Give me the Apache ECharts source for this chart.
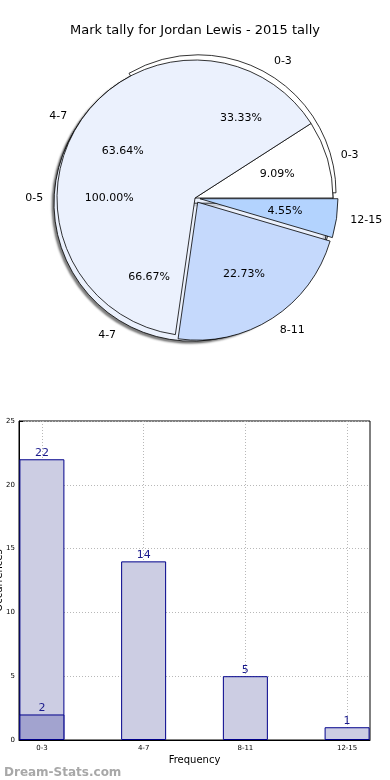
<!DOCTYPE html>
<html><head><meta charset="utf-8">
<script src="https://cdn.jsdelivr.net/npm/echarts@6.0.0/dist/echarts.min.js"></script>
<style>html,body{margin:0;padding:0;background:#fff}#c{width:390px;height:780px}</style>
</head><body><div id="c"></div><script>
// ---- data ----
const pieANames = ['0-3', '4-7', '8-11', '12-15'];
const pieAValues = [2, 14, 5, 1];
const pieBNames = ['0-3', '4-7'];
const pieBValues = [1, 2];
const pieCNames = ['0-5'];
const pieCValues = [1];
const barCategories = ['0-3', '4-7', '8-11', '12-15'];
const barValues = [22, 14, 5, 1];
const barSubValues = [2];          // darker overlay on first category
const yTicks = [0, 5, 10, 15, 20, 25];

// ---- styles ----
const FONT = 'DejaVu Sans';
const R = 138, CX = 195, CY = 198;
const pieAColors = ['#ffffff', '#ebf1fd', '#c5d9fc', '#b3d3fe'];
const pieAExplode = [false, false, true, true];
const pieBColors = ['#ffffff', '#ebf1fd'];
const pieBExplode = [true, true];
const pieBShadow = [false, true];
const pieCColors = ['#ebf1fd'];
const pieCExplode = [false];
const pieCShadow = [true];

const shadowStyle = { shadowBlur: 2, shadowColor: 'rgba(0,0,0,0.5)', shadowOffsetX: -2, shadowOffsetY: 2 };

function base(offset, z) {
  return {
    type: 'pie', center: [CX, CY], radius: [0, R], startAngle: 0, clockwise: false,
    selectedMode: 'multiple', selectedOffset: offset, silent: true, animation: false,
    avoidLabelOverlap: false, z: z, emphasis: { disabled: true },
    label: { show: false }, labelLine: { show: false }
  };
}
function sectors(names, values, colors, explode, offset, shadows) {
  const s = base(offset, 2);
  s.data = names.map((n, i) => {
    const st = Object.assign({ color: colors[i], borderColor: '#000', borderWidth: 0.8 },
      (shadows && shadows[i]) ? shadowStyle : {});
    return { name: n, value: values[i], selected: explode[i], itemStyle: st, select: { itemStyle: st } };
  });
  return s;
}
function pctLabels(names, values, explode, offset) {
  const total = values.reduce((a, b) => a + b, 0);
  const s = base(offset, 6);
  s.radius = [R * 0.2, R];
  s.label = { show: true, position: 'inside', color: '#000', fontSize: 11, fontFamily: FONT,
    formatter: p => (p.value / total * 100).toFixed(2) + '%' };
  s.data = names.map((n, i) => ({ name: n, value: values[i], selected: explode[i],
    itemStyle: { color: 'transparent', borderWidth: 0 }, select: { itemStyle: { color: 'transparent', borderWidth: 0 } } }));
  return s;
}
function nameLabels(names, values, explode, offset) {
  const s = base(offset, 6);
  s.label = { show: true, position: 'outside', color: '#000', fontSize: 11, fontFamily: FONT,
    formatter: '{b}', distanceToLabelLine: 0 };
  s.labelLine = { show: false, length: R * 0.1, length2: 0 };
  s.data = names.map((n, i) => ({ name: n, value: values[i], selected: explode[i],
    itemStyle: { color: 'transparent', borderWidth: 0 }, select: { itemStyle: { color: 'transparent', borderWidth: 0 } } }));
  return s;
}

const chart = echarts.init(document.getElementById('c'), null, { renderer: 'canvas' });
chart.setOption({
  animation: false,
  backgroundColor: '#fff',
  title: [
    { text: 'Mark tally for Jordan Lewis - 2015 tally', left: 'center', top: 19,
      textStyle: { fontFamily: FONT, fontSize: 13, fontWeight: 'normal', color: '#000' } },
    { text: 'Dream-Stats.com', left: -1, top: 762,
      textStyle: { fontFamily: FONT, fontSize: 12, fontWeight: 'bold', color: '#a8a8a8' } }
  ],
  grid: { left: 19, right: 20, top: 421, bottom: 40, outerBoundsMode: 'none', containLabel: false,
    show: true, borderColor: '#000', borderWidth: 1, backgroundColor: 'transparent' },
  xAxis: {
    type: 'value', min: -0.225, max: 3.225,
    name: 'Frequency', nameLocation: 'middle', nameGap: 15,
    nameTextStyle: { fontFamily: FONT, fontSize: 10, color: '#000' },
    axisLine: { show: true, onZero: false, lineStyle: { color: '#000' } },
    axisTick: { show: true, inside: true, length: 4, customValues: [0, 1, 2, 3], lineStyle: { color: '#000' } },
    axisLabel: { customValues: [0, 1, 2, 3], formatter: v => barCategories[Math.round(v)], fontFamily: FONT, fontSize: 7, color: '#000', margin: 5 },
    splitLine: { show: true, lineStyle: { color: '#b8b8b8', type: [1, 2] } }
  },
  yAxis: {
    type: 'value', min: yTicks[0], max: yTicks[yTicks.length - 1], interval: 5,
    name: 'Occurrences', nameLocation: 'middle', nameGap: 15, nameMoveOverlap: false,
    nameTextStyle: { fontFamily: FONT, fontSize: 10, color: '#000' },
    axisLine: { show: true, onZero: false, lineStyle: { color: '#000' } },
    axisTick: { show: true, inside: true, length: 4, lineStyle: { color: '#000' } },
    axisLabel: { fontFamily: FONT, fontSize: 7, color: '#000', margin: 4 },
    splitLine: { show: true, lineStyle: { color: '#b8b8b8', type: [1, 2] } }
  },
  series: [
    sectors(pieCNames, pieCValues, pieCColors, pieCExplode, 0, pieCShadow),
    sectors(pieBNames, pieBValues, pieBColors, pieBExplode, 6, pieBShadow),
    sectors(pieANames, pieAValues, pieAColors, pieAExplode, 5, null),
    pctLabels(pieCNames, pieCValues, pieCExplode, 0),
    pctLabels(pieBNames, pieBValues, pieBExplode, 6),
    pctLabels(pieANames, pieAValues, pieAExplode, 5),
    nameLabels(pieCNames, pieCValues, pieCExplode, 0),
    nameLabels(pieBNames, pieBValues, pieBExplode, 6),
    nameLabels(pieANames, pieAValues, pieAExplode, 5),
    {
      type: 'bar', barWidth: 45, barGap: '-100%', silent: true,
      data: barValues.map((v, i) => [i, v]),
      itemStyle: { color: '#cccde3', borderColor: '#00008b', borderWidth: 1 },
      label: { show: true, position: 'top', distance: 1, color: '#1a1a8c', fontFamily: FONT, fontSize: 11 }
    },
    {
      type: 'bar', barWidth: 45, barGap: '-100%', silent: true,
      data: barSubValues.map((v, i) => [i, v]),
      itemStyle: { color: '#a2a3cf', borderColor: '#00008b', borderWidth: 1 },
      label: { show: true, position: 'top', distance: 1, color: '#1a1a8c', fontFamily: FONT, fontSize: 11 }
    }
  ]
});
</script></body></html>
